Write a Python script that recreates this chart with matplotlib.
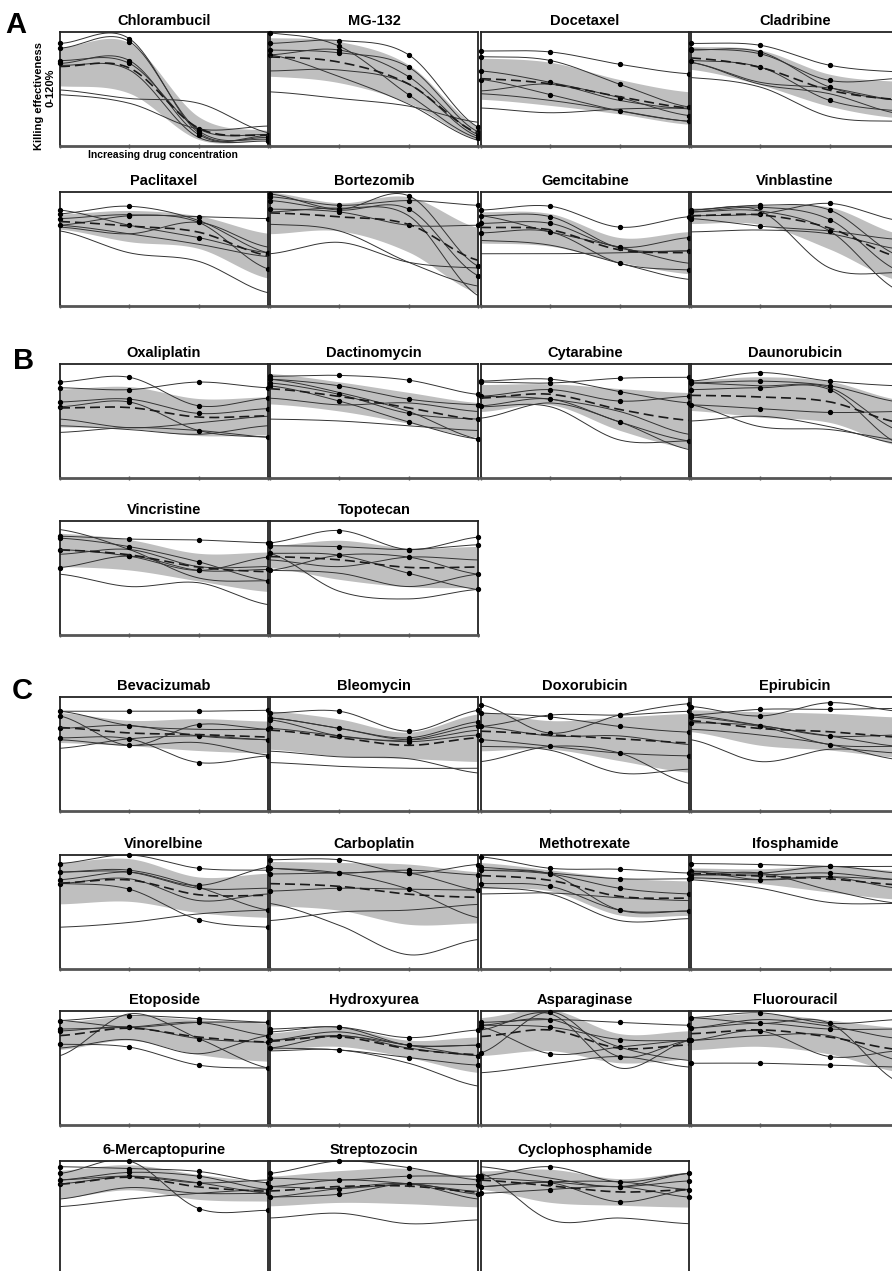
import numpy as np
import matplotlib
matplotlib.use('Agg')
import matplotlib.pyplot as plt

plt.rcParams['font.family'] = ['Liberation Sans', 'DejaVu Sans']

# ---------------- data (killing effectiveness, %, at 4 increasing concentrations) -------------
CONC = [0, 1, 2, 3]

chlorambucil = [[108, 113, 14, 9], [103, 110, 16, 7], [90, 87, 18, 12], [87, 90, 12, 5],
                [85, 80, 9, 11], [59, 50, 45, 14], [54, 45, 18, 21]]
mg132 = [[119, 105, 54, 8], [108, 111, 96, 20], [101, 98, 83, 15], [96, 101, 73, 12],
         [79, 80, 65, 10], [96, 73, 44, 6], [57, 50, 42, 25]]
docetaxel = [[100, 99, 86, 76], [94, 90, 65, 41], [79, 67, 51, 32], [70, 54, 37, 26],
             [58, 65, 48, 39], [40, 35, 39, 40], [55, 48, 37, 26]]
cladribine = [[108, 106, 85, 78], [102, 97, 69, 71], [101, 99, 62, 48], [90, 83, 48, 37],
              [88, 65, 55, 34], [72, 62, 31, 26], [88, 67, 61, 48]]
paclitaxel = [[97, 105, 90, 56], [92, 96, 88, 39], [85, 95, 94, 92], [101, 85, 72, 56],
              [83, 76, 88, 62], [79, 56, 47, 14], [85, 76, 65, 52]]
bortezomib = [[118, 102, 116, 42], [115, 106, 111, 106], [111, 101, 102, 32], [102, 99, 85, 85],
              [86, 79, 46, 21], [55, 67, 46, 40], [99, 103, 95, 11]]
gemcitabine = [[101, 105, 83, 94], [95, 94, 61, 58], [87, 87, 62, 72], [77, 78, 45, 38],
               [69, 64, 45, 28], [55, 55, 56, 58], [95, 78, 62, 45]]
vinblastine = [[101, 106, 101, 53], [99, 104, 91, 37], [95, 97, 108, 90], [92, 84, 79, 70],
               [101, 100, 40, 35], [78, 80, 76, 60], [99, 100, 79, 16]]
oxaliplatin = [[101, 106, 76, 84], [95, 93, 101, 95], [80, 83, 68, 73], [75, 80, 50, 43],
               [62, 53, 58, 65], [48, 53, 50, 43], [55, 51, 46, 55]]
dactinomycin = [[107, 108, 103, 88], [104, 97, 83, 77], [100, 88, 68, 62], [97, 81, 59, 41],
                [84, 77, 79, 70], [62, 60, 55, 50], [104, 90, 70, 41]]
cytarabine = [[102, 104, 91, 79], [101, 100, 105, 106], [86, 93, 81, 86], [76, 83, 59, 39],
              [75, 75, 40, 39], [63, 79, 59, 30], [86, 83, 70, 46]]
daunorubicin = [[102, 111, 102, 97], [100, 102, 97, 80], [93, 95, 93, 36], [77, 73, 69, 70],
                [77, 54, 51, 40], [60, 65, 54, 36], [100, 97, 95, 50]]
vincristine = [[104, 101, 100, 97], [102, 93, 77, 57], [90, 83, 68, 82], [71, 83, 68, 69],
               [64, 51, 55, 32], [111, 90, 60, 57], [85, 90, 72, 72]]
topotecan = [[97, 110, 90, 103], [94, 93, 90, 95], [86, 84, 65, 48], [68, 84, 82, 64],
             [86, 46, 38, 48], [68, 65, 51, 64], [79, 72, 82, 79]]
bevacizumab = [[105, 105, 105, 106], [100, 69, 91, 86], [87, 90, 79, 75], [77, 76, 51, 58],
               [75, 69, 72, 59], [66, 76, 79, 75], [105, 90, 86, 86]]
bleomycin = [[103, 105, 84, 106], [98, 87, 77, 94], [96, 79, 75, 90], [87, 79, 73, 80],
             [63, 57, 55, 40], [51, 47, 45, 45], [98, 87, 75, 85]]
doxorubicin = [[103, 99, 89, 83], [112, 82, 101, 113], [89, 101, 101, 105], [75, 68, 61, 58],
               [68, 64, 40, 44], [52, 68, 61, 29], [89, 79, 79, 70]]
epirubicin = [[110, 100, 114, 105], [101, 107, 107, 108], [99, 90, 79, 80], [93, 89, 70, 68],
              [75, 52, 65, 61], [86, 80, 70, 54], [101, 90, 79, 68]]
vinorelbine = [[111, 120, 106, 104], [102, 104, 86, 62], [94, 102, 88, 107], [90, 84, 52, 44],
               [44, 49, 58, 62], [90, 95, 72, 79], [102, 102, 85, 85]]
carboplatin = [[115, 115, 101, 110], [106, 101, 104, 99], [100, 101, 101, 83], [82, 85, 84, 83],
               [69, 46, 15, 31], [51, 60, 62, 68], [106, 101, 84, 54]]
methotrexate = [[118, 106, 105, 101], [107, 101, 95, 95], [104, 100, 85, 79], [90, 87, 62, 61],
                [86, 79, 51, 53], [79, 80, 75, 72], [104, 100, 62, 61]]
ifosphamide = [[111, 110, 108, 108], [103, 101, 108, 101], [99, 99, 101, 94], [96, 94, 97, 85],
               [94, 85, 70, 69], [99, 101, 83, 69], [103, 94, 97, 94]]
etoposide = [[110, 115, 112, 108], [101, 103, 108, 94], [99, 103, 91, 87], [85, 82, 63, 60],
             [73, 117, 91, 60], [81, 90, 75, 94], [110, 103, 108, 108]]
hydroxyurea = [[101, 103, 92, 100], [98, 103, 84, 84], [89, 94, 84, 73], [81, 79, 71, 63],
               [78, 79, 65, 41], [89, 98, 84, 84], [81, 94, 81, 73]]
asparaginase = [[108, 111, 108, 105], [105, 103, 90, 89], [103, 75, 82, 89], [76, 119, 72, 89],
                [100, 117, 60, 89], [55, 64, 72, 61], [105, 111, 82, 68]]
fluorouracil = [[113, 118, 107, 111], [102, 107, 101, 101], [89, 99, 72, 78], [65, 65, 63, 61],
                [102, 111, 104, 91], [113, 107, 107, 45], [89, 94, 94, 68]]
mercaptopurine = [[107, 120, 70, 68], [114, 112, 109, 97], [100, 108, 104, 90], [96, 104, 97, 86],
                  [80, 92, 86, 86], [72, 80, 86, 90], [100, 104, 97, 100]]
streptozocin = [[107, 120, 113, 100], [102, 100, 104, 104], [93, 91, 96, 95], [82, 85, 96, 85],
                [60, 65, 54, 58], [93, 100, 96, 88], [82, 91, 96, 80]]
cyclophosphamide = [[104, 114, 98, 107], [102, 98, 93, 99], [93, 97, 77, 90], [86, 90, 93, 82],
                    [107, 58, 60, 54], [114, 102, 93, 107], [93, 98, 98, 90]]

SECTION_A = [("Chlorambucil", chlorambucil), ("MG-132", mg132), ("Docetaxel", docetaxel),
             ("Cladribine", cladribine), ("Paclitaxel", paclitaxel), ("Bortezomib", bortezomib),
             ("Gemcitabine", gemcitabine), ("Vinblastine", vinblastine)]
SECTION_B = [("Oxaliplatin", oxaliplatin), ("Dactinomycin", dactinomycin), ("Cytarabine", cytarabine),
             ("Daunorubicin", daunorubicin), ("Vincristine", vincristine), ("Topotecan", topotecan)]
SECTION_C = [("Bevacizumab", bevacizumab), ("Bleomycin", bleomycin), ("Doxorubicin", doxorubicin),
             ("Epirubicin", epirubicin), ("Vinorelbine", vinorelbine), ("Carboplatin", carboplatin),
             ("Methotrexate", methotrexate), ("Ifosphamide", ifosphamide), ("Etoposide", etoposide),
             ("Hydroxyurea", hydroxyurea), ("Asparaginase", asparaginase), ("Fluorouracil", fluorouracil),
             ("6-Mercaptopurine", mercaptopurine), ("Streptozocin", streptozocin),
             ("Cyclophosphamide", cyclophosphamide)]

# ---------------- layout (pixels) ----------------
W, H = 892, 1271
COL_LEFT = [60, 270, 481, 691]
PANEL_W = 208
ROW_TOP = {"A": [32, 192], "B": [364, 521], "C": [697, 855, 1011, 1161]}
PANEL_H = 114


def smooth(x, y, n=60):
    """Catmull-Rom style smoothed line through the points (drawing only)."""
    x = np.asarray(x, float)
    y = np.asarray(y, float)
    m = np.zeros_like(y)
    m[1:-1] = (y[2:] - y[:-2]) / 2.0
    m[0] = (y[1] - y[0]) / 2.0
    m[-1] = (y[-1] - y[-2]) / 2.0
    xs, ys = [], []
    for i in range(len(x) - 1):
        t = np.linspace(0, 1, n, endpoint=(i == len(x) - 2))
        h00 = 2 * t**3 - 3 * t**2 + 1
        h10 = t**3 - 2 * t**2 + t
        h01 = -2 * t**3 + 3 * t**2
        h11 = t**3 - t**2
        xs.append(x[i] + t * (x[i + 1] - x[i]))
        ys.append(h00 * y[i] + h10 * m[i] + h01 * y[i + 1] + h11 * m[i + 1])
    return np.concatenate(xs), np.concatenate(ys)


fig = plt.figure(figsize=(W / 100, H / 100), dpi=100)


def add_panel(name, data, left_px, top_px):
    ax = fig.add_axes([left_px / W, 1 - (top_px + PANEL_H) / H, PANEL_W / W, PANEL_H / H])
    vals = np.array(data, float)
    mean = vals.mean(axis=0)
    sd = vals.std(axis=0, ddof=1)
    xs, lo = smooth(CONC, mean - sd)
    _, hi = smooth(CONC, mean + sd)
    ax.fill_between(xs, lo, hi, color='#bfbfbf', lw=0, zorder=1)
    for i, row in enumerate(vals):
        sx, sy = smooth(CONC, row)
        ax.plot(sx, sy, color='#333333', lw=0.7, zorder=2)
        if i < 4:
            ax.plot(CONC, row, 'o', ms=2.8, color='black', zorder=3, clip_on=False)
    _, my = smooth(CONC, mean)
    ax.plot(xs, my, color='#1a1a1a', lw=1.2, dashes=(6, 3), zorder=4)
    ax.set_xlim(0, 3)
    ax.set_ylim(0, 120)
    ax.set_xticks(CONC)
    ax.set_xticklabels([])
    ax.set_yticks([])
    for s in ('top', 'left', 'right'):
        ax.spines[s].set_color('#222222')
        ax.spines[s].set_linewidth(1.3)
    ax.spines['bottom'].set_color('#555555')
    ax.spines['bottom'].set_linewidth(2.0)
    ax.tick_params(axis='x', direction='inout', length=3.5, width=1, color='#555555')
    ax.set_title(name, fontsize=10.5, fontweight='bold', pad=5)
    return ax


for sec, items in (("A", SECTION_A), ("B", SECTION_B), ("C", SECTION_C)):
    for k, (name, data) in enumerate(items):
        r, c = divmod(k, 4)
        add_panel(name, data, COL_LEFT[c], ROW_TOP[sec][r])

# section letters
for letter, x_px, base_px in (("A", 5, 33), ("B", 13, 369), ("C", 12, 699)):
    fig.text(x_px / W, 1 - base_px / H, letter, fontsize=21, fontweight='bold',
             ha='left', va='baseline')

# axis annotations on first panel
fig.text(39 / W, 1 - 96 / H, "Killing effectiveness", rotation=90, fontsize=8,
         fontweight='bold', ha='center', va='center')
fig.text(51 / W, 1 - 88 / H, "0-120%", rotation=90, fontsize=8,
         fontweight='bold', ha='center', va='center')
fig.text(163 / W, 1 - 155 / H, "Increasing drug concentration", fontsize=7.5,
         fontweight='bold', ha='center', va='center')

fig.savefig('out.png', dpi=100)
